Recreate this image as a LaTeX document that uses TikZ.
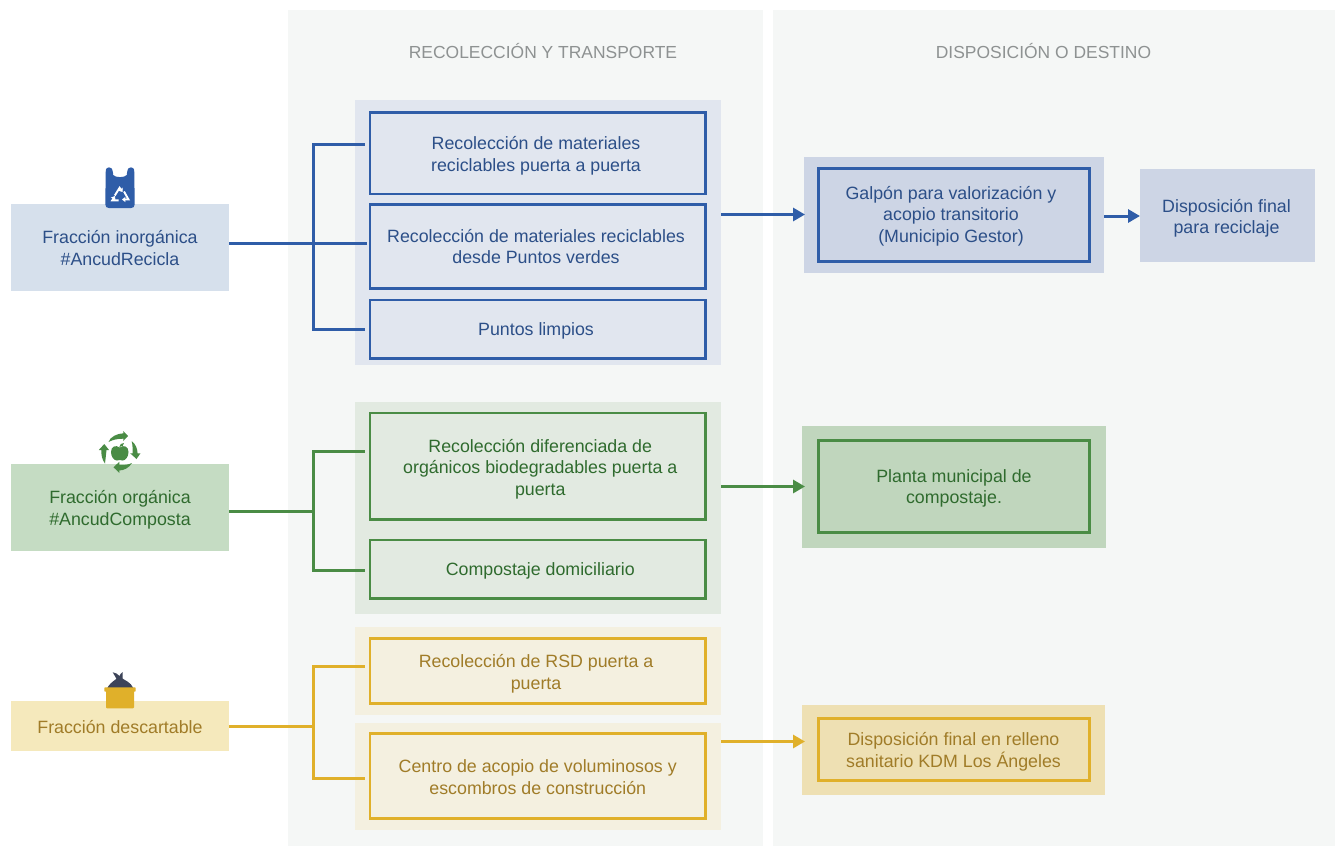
\documentclass[tikz,border=0pt]{standalone}
\usepackage{fontspec}
\setmainfont{Liberation Sans}
\usetikzlibrary{arrows.meta,calc}
\definecolor{panel}{HTML}{F5F7F6}
\definecolor{titlec}{HTML}{8E9292}
\definecolor{bline}{HTML}{2F5DA8}
\definecolor{btext}{HTML}{2C4F88}
\definecolor{bleft}{HTML}{D6E0EC}
\definecolor{bgroup}{HTML}{E1E6EF}
\definecolor{bdest}{HTML}{CDD5E5}
\definecolor{gline}{HTML}{4A8C45}
\definecolor{gtext}{HTML}{2F6B2E}
\definecolor{gleft}{HTML}{C5DCC3}
\definecolor{ggroup}{HTML}{E2EAE1}
\definecolor{gdest}{HTML}{C0D6BD}
\definecolor{yline}{HTML}{E0B02A}
\definecolor{ytext}{HTML}{A07C28}
\definecolor{yleft}{HTML}{F5E9BC}
\definecolor{ygroup}{HTML}{F4F0E0}
\definecolor{ydest}{HTML}{EEE0B3}
\definecolor{bagdark}{HTML}{3D4459}
\def\tdyval{0}
\def\tdxval{0}
\tikzset{
  tdy/.code={\def\tdyval{#1}},
  tdx/.code={\def\tdxval{#1}},
  plain/.style={outer sep=0pt,inner sep=0pt,font=\fontsize{17.8}{21.5}\selectfont},
  titlenode/.style={outer sep=0pt,inner sep=0pt,text=titlec,font=\fontsize{17.45}{21}\selectfont},
  bflat/.style={plain,fill=#1},
  framed/.style n args={3}{plain,fill=#1,draw=#2,text=#3,line width=2.8pt},
  conn/.style={line width=3pt,line join=miter},
  branch/.style={line width=3pt,line join=miter,shorten >=5.5pt},
  connarrow/.style={line width=3pt,-{Triangle[length=12pt,width=13pt]}},
}
% \bx[style]{name}{x1}{y1}{x2}{y2}{text}
\newcommand{\bx}[7][]{%
  \pgfmathsetmacro{\bxw}{#5-#3}\pgfmathsetmacro{\bxh}{#6-#4}%
  \pgfmathsetmacro{\bxcx}{(#5+#3)/2}\pgfmathsetmacro{\bxcy}{(#6+#4)/2}%
  \node[#1,minimum width=\bxw pt,minimum height=\bxh pt] (#2) at (\bxcx,\bxcy)
    {\pgfmathsetmacro{\bxdy}{\tdyval+2.3}\kern\tdxval pt\raisebox{-\bxdy pt}[\height][\depth]{\begin{tabular}{@{}c@{}}#7\end{tabular}}\kern-\tdxval pt};}
\begin{document}
\begin{tikzpicture}[x=1pt,y=-1pt]
\useasboundingbox (0,0) rectangle (1335,846);
\fill[white] (0,0) rectangle (1335,846);
% panels
\node[plain,fill=panel,minimum width=475pt,minimum height=836pt] (panelA) at (525.5,428) {};
\node[plain,fill=panel,minimum width=562pt,minimum height=836pt] (panelB) at (1054,428) {};
\node[titlenode] (titleA) at (543,51.5) {RECOLECCIÓN Y TRANSPORTE};
\node[titlenode] (titleB) at (1043.5,51.5) {DISPOSICIÓN O DESTINO};
% blue
\node[plain,fill=bgroup,minimum width=366pt,minimum height=265pt] (bg) at (538,232.5) {};
\node[plain,fill=bdest,minimum width=300pt,minimum height=116pt] (bd) at (954,215) {};
\bx[bflat=bleft,text=btext,tdy=0.5]{bl}{11}{204}{229}{291}{Fracción inorgánica\\\#AncudRecicla}
\bx[framed={bgroup}{bline}{btext},tdy=0.5,tdx=-1.7]{b1}{370}{112.5}{705.5}{194}{Recolección de materiales\\reciclables puerta a puerta}
\bx[framed={bgroup}{bline}{btext},tdx=-1.7]{b2}{370}{204.5}{705.5}{288.5}{Recolección de materiales reciclables\\desde Puntos verdes}
\bx[framed={bgroup}{bline}{btext},tdx=-1.7]{b3}{370}{300}{705.5}{358.5}{Puntos limpios}
\bx[framed={bdest}{bline}{btext},tdy=-1,tdx=-3]{b4}{818.5}{168.5}{1089.5}{261.5}{Galpón para valorización y\\acopio transitorio\\(Municipio Gestor)}
\bx[bflat=bdest,text=btext,tdy=1,tdx=-1]{b5}{1140}{169}{1315}{262}{Disposición final\\para reciclaje}
% green
\node[plain,fill=ggroup,minimum width=366pt,minimum height=212pt] (gg) at (538,508) {};
\node[plain,fill=gdest,minimum width=304pt,minimum height=122pt] (gd) at (954,487) {};
\bx[bflat=gleft,text=gtext,tdy=0.5]{gl}{11}{464}{229}{551}{Fracción orgánica\\\#AncudComposta}
\bx[framed={ggroup}{gline}{gtext},tdy=1,tdx=2.5]{g1}{370}{413}{705.5}{519.5}{Recolección diferenciada de\\orgánicos biodegradables puerta a\\puerta}
\bx[framed={ggroup}{gline}{gtext},tdx=2.5]{g2}{370}{540}{705.5}{598.5}{Compostaje domiciliario}
\bx[framed={gdest}{gline}{gtext}]{g3}{818.5}{440.5}{1089.5}{532.5}{Planta municipal de\\compostaje.}
% yellow
\node[plain,fill=ygroup,minimum width=366pt,minimum height=88pt] (yga) at (538,671) {};
\node[plain,fill=ygroup,minimum width=366pt,minimum height=107pt] (ygb) at (538,776.5) {};
\node[plain,fill=ydest,minimum width=303pt,minimum height=90pt] (yd) at (953.5,750) {};
\bx[bflat=yleft,text=ytext,tdy=0.5]{yl}{11}{701}{229}{751}{Fracción descartable}
\bx[framed={ygroup}{yline}{ytext},tdy=1,tdx=-1.7]{y1}{370}{638.5}{705.5}{703.5}{Recolección de RSD puerta a\\puerta}
\bx[framed={ygroup}{yline}{ytext},tdy=1]{y2}{370}{733.5}{705.5}{818.5}{Centro de acopio de voluminosos y\\escombros de construcción}
\bx[framed={ydest}{yline}{ytext},tdx=-0.5]{y3}{818.5}{718.5}{1089.5}{780.5}{Disposición final en relleno\\sanitario KDM Los Ángeles}
% connectors blue
\coordinate (bmid) at (229,243.5);
\coordinate (bj) at (313.5,243.5);
\coordinate (bt) at (313.5,144.5);
\coordinate (bb) at (313.5,329.5);
\draw[conn,bline,shorten >=3pt] (bl.east |- bmid) -- (b2.west |- bmid);
\draw[branch,bline] (bj) -- (bt) -- (b1.west |- bt);
\draw[branch,bline] (bj) -- (bb) -- (b3.west |- bb);
\coordinate (barr) at (721,214.5);
\coordinate (barrend) at (805,214.5);
\draw[connarrow,bline] (bg.east |- barr) -- (barrend);
\coordinate (barrb) at (1104,216);
\draw[connarrow,bline] (bd.east |- barrb) -- (b5.west |- barrb);
% connectors green
\coordinate (gj) at (313.5,511.5);
\coordinate (gt) at (313.5,451.5);
\coordinate (gb) at (313.5,570.5);
\draw[conn,gline] (gl.east |- gj) -- (gj);
\draw[branch,gline] (gj) -- (gt) -- (g1.west |- gt);
\draw[branch,gline] (gj) -- (gb) -- (g2.west |- gb);
\coordinate (garr) at (721,486.5);
\coordinate (garrend) at (805,486.5);
\draw[connarrow,gline] (gg.east |- garr) -- (garrend);
% connectors yellow
\coordinate (yj) at (313.5,726.5);
\coordinate (yt) at (313.5,666.5);
\coordinate (yb) at (313.5,778.5);
\draw[conn,yline] (yl.east |- yj) -- (yj);
\draw[branch,yline] (yj) -- (yt) -- (y1.west |- yt);
\draw[branch,yline] (yj) -- (yb) -- (y2.west |- yb);
\coordinate (yarr) at (721,741.5);
\coordinate (yarrend) at (805,741.5);
\draw[connarrow,yline] (ygb.east |- yarr) -- (yarrend);
% bag icon
\fill[bline] (105.7,172) .. controls (105.7,168.5) and (107,167.3) .. (109,167.3)
  .. controls (111.5,167.3) and (112.7,169) .. (112.9,172) -- (113.2,175)
  .. controls (115,177.8) and (125,177.8) .. (126.8,175) -- (127.1,172)
  .. controls (127.3,169) and (128.5,167.3) .. (131,167.3)
  .. controls (133,167.3) and (134.3,168.5) .. (134.3,172)
  -- (134.7,204.5) .. controls (134.7,207) and (133,208) .. (131,208)
  -- (109,208) .. controls (107,208) and (105.3,207) .. (105.3,204.5) -- cycle;
\begin{scope}[white,line width=1.9pt]
  \draw[-{Triangle[length=3.4pt,width=5pt]}] (114.8,195.5) -- (119.6,187.8) -- (122.6,192);
  \draw[-{Triangle[length=3.4pt,width=5pt]}] (124,191.5) -- (128.5,199.5) -- (122,199.5);
  \draw[-{Triangle[length=3.4pt,width=5pt]}] (118.5,200.3) -- (112.3,200.3) -- (115,196);
\end{scope}
% apple icon
\fill[gline] (119.7,447.5) .. controls (115.5,444.5) and (111,446.5) .. (111,452)
  .. controls (111,456.5) and (114,460.8) .. (117,460.5) .. controls (118.5,459.8) and (121,459.8) .. (122.5,460.5)
  .. controls (125.5,460.8) and (128.5,456.5) .. (128.5,452) .. controls (128.5,446.5) and (124,444.5) .. (119.7,447.5) -- cycle;
\fill[gline] (119.3,447) .. controls (119.3,444.5) and (121.5,443) .. (124,443) .. controls (124,445.5) and (122,447) .. (119.3,447) -- cycle;
% arrows round the apple
\fill[gline] (108.5,442) .. controls (110,437) and (117,433.5) .. (123.3,433.3) -- (123.3,431) -- (128,436) -- (123.3,441) -- (123.3,438.7)
   .. controls (118,438.7) and (113,439.5) .. (108.5,442) -- cycle;
\fill[gline] (131.7,441.2) .. controls (135.5,443.5) and (137.5,449) .. (137.6,453.3) -- (140.5,453.3) -- (136.5,459) -- (130.2,453.3) -- (132.7,453.3)
   .. controls (132.7,449.5) and (132.7,445.5) .. (131.7,441.2) -- cycle;
\fill[gline] (132,463) .. controls (129,468) and (124,470.3) .. (119.3,470.5) -- (119.3,472.8) -- (113.5,467.3) -- (119.3,461.8) -- (119.3,464.8)
   .. controls (123.5,465) and (128,465) .. (132,463) -- cycle;
\fill[gline] (105,463.5) .. controls (102,459.5) and (101,455) .. (101.5,450) -- (98.8,450) -- (104.3,444) -- (109,450) -- (106.5,450)
   .. controls (106,454.5) and (105.6,459) .. (105,463.5) -- cycle;
% trash icon
\fill[bagdark] (107.3,688) .. controls (109,684.5) and (112,682) .. (116.5,678.8) -- (112.7,672.3)
  .. controls (115.5,672.8) and (118,674) .. (119.5,676) .. controls (120,674.5) and (121,673) .. (122.5,672.2)
  .. controls (122.8,674.5) and (122.6,676.5) .. (122.7,678.6)
  .. controls (125,680.5) and (130.5,682) .. (133.3,688) -- cycle;
\fill[yline,rounded corners=1pt] (106,690) -- (134,690) -- (134,708.3) -- (106,708.3) -- cycle;
\fill[yline,rounded corners=0.7pt] (104.3,687.3) rectangle (135.7,691.7);
\end{tikzpicture}
\end{document}
